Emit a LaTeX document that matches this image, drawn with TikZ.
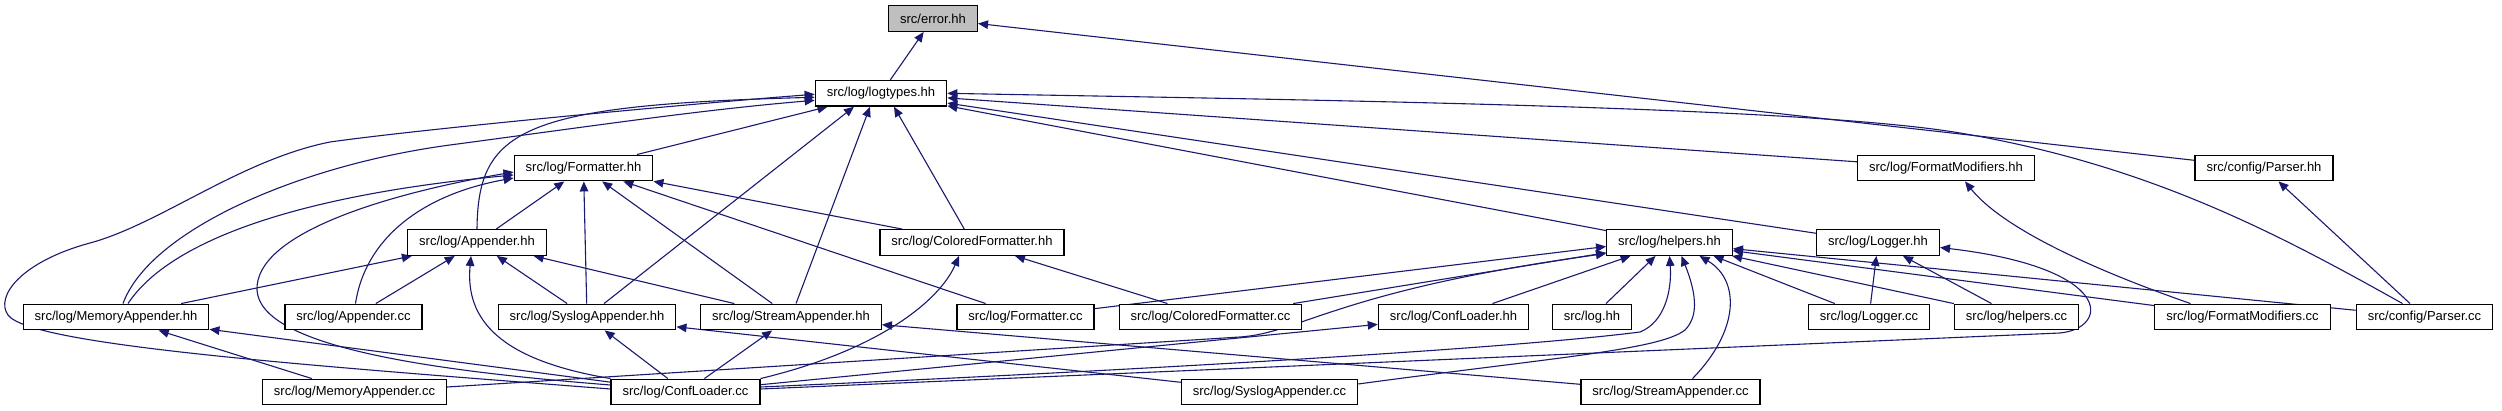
\documentclass[tikz,border=0pt]{standalone}
\usepackage{fontspec}
\setmainfont{Liberation Sans}
\usetikzlibrary{arrows.meta}
\definecolor{depblue}{RGB}{25,25,112}
\pgfdeclarelayer{bg}
\pgfsetlayers{bg,main}
\begin{document}
\begin{tikzpicture}[x=1pt, y=-1pt,
  every node/.style={font=\fontsize{13}{15}\selectfont},
  box/.style={draw=black, line width=1.3pt, fill=white, inner xsep=11.5pt, inner ysep=0pt, minimum height=25.6pt},
  dep/.style={depblue, line width=1.1pt, -{Triangle[length=10pt,width=8.5pt]}}]
\useasboundingbox (0,0) rectangle (2502,411);
% rows of headers and sources
\node[box, fill=black!25] (error) at (933,18.5) {src/error.hh};
\node[box] (logtypes) at (881,93.3) {src/log/logtypes.hh};
\node[box] (formatterhh) at (583.5,168) {src/log/Formatter.hh};
\node[box] (fmodhh) at (1946,168) {src/log/FormatModifiers.hh};
\node[box] (parserhh) at (2264,168) {src/config/Parser.hh};
\node[box] (appenderhh) at (477,242.5) {src/log/Appender.hh};
\node[box] (colfmthh) at (972,242.5) {src/log/ColoredFormatter.hh};
\node[box] (helpershh) at (1669.5,242.5) {src/log/helpers.hh};
\node[box] (loggerhh) at (1878,242.5) {src/log/Logger.hh};
\node[box] (memapphh) at (116,317) {src/log/MemoryAppender.hh};
\node[box] (appendercc) at (353.5,317) {src/log/Appender.cc};
\node[box] (sysapphh) at (587,317) {src/log/SyslogAppender.hh};
\node[box] (strapphh) at (791,317) {src/log/StreamAppender.hh};
\node[box] (formattercc) at (1025.5,317) {src/log/Formatter.cc};
\node[box] (colfmtcc) at (1210.5,317) {src/log/ColoredFormatter.cc};
\node[box] (confloaderhh) at (1453.5,317) {src/log/ConfLoader.hh};
\node[box] (loghh) at (1592,317) {src/log.hh};
\node[box] (loggercc) at (1869,317) {src/log/Logger.cc};
\node[box] (helperscc) at (2016.5,317) {src/log/helpers.cc};
\node[box] (fmodcc) at (2242.5,317) {src/log/FormatModifiers.cc};
\node[box] (parsercc) at (2424.5,317) {src/config/Parser.cc};
\node[box] (memappcc) at (354.5,392) {src/log/MemoryAppender.cc};
\node[box] (confloadercc) at (685.5,392) {src/log/ConfLoader.cc};
\node[box] (sysappcc) at (1269.5,392) {src/log/SyslogAppender.cc};
\node[box] (strappcc) at (1670.5,392) {src/log/StreamAppender.cc};
\begin{pgfonlayer}{bg}
\fill[white] (0,0) rectangle (2502,411);
% includes of error.hh and logtypes.hh
\draw[dep] (logtypes) -- (error);
\draw[dep] (parserhh) -- (error);
\draw[dep] (formatterhh) -- (logtypes);
\draw[dep] (appenderhh.north) .. controls (478,130) and (520,105) .. ([yshift=-4pt]logtypes.west);
\draw[dep] ([xshift=7pt]memapphh.north) .. controls (150,230) and (300,165) .. (450,145) .. controls (600,125) and (700,110) .. ([yshift=-7pt]logtypes.west);
\draw[dep] ([yshift=3pt]confloadercc.west) .. controls (300,365) and (30,345) .. (8,315) .. controls (-5,297) and (20,262) .. (90,243) .. controls (160,224) and (240,160) .. (330,142) .. controls (430,128) and (700,103) .. ([yshift=-1pt]logtypes.west);
\draw[dep] (sysapphh) -- ([xshift=-27pt]logtypes.south);
\draw[dep] (strapphh) -- ([xshift=-11pt]logtypes.south);
\draw[dep] (colfmthh) -- ([xshift=13pt]logtypes.south);
\draw[dep] (helpershh) -- (logtypes);
\draw[dep] (loggerhh) -- (logtypes);
\draw[dep] (fmodhh) -- (logtypes);
\draw[dep] ([xshift=-22pt]parsercc.north) .. controls (2280,235) and (2150,165) .. (1960,133) .. controls (1800,106) and (1300,100) .. (logtypes.east);
% Formatter.hh
\draw[dep] (appenderhh) -- (formatterhh);
\draw[dep] ([xshift=12pt]memapphh.north) .. controls (170,240) and (300,195) .. ([yshift=-7pt]formatterhh.west);
\draw[dep] ([xshift=2pt]appendercc.north) .. controls (365,240) and (420,195) .. ([yshift=-10pt]formatterhh.west);
\draw[dep] ([yshift=7pt]confloadercc.west) .. controls (420,370) and (260,345) .. (257,290) .. controls (255,235) and (380,195) .. ([yshift=-4pt]formatterhh.west);
\draw[dep] (sysapphh) -- (formatterhh);
\draw[dep] (strapphh) -- (formatterhh);
\draw[dep] (formattercc) -- (formatterhh);
\draw[dep] (colfmthh) -- (formatterhh);
% Appender.hh
\draw[dep] (memapphh) -- (appenderhh);
\draw[dep] (appendercc) -- (appenderhh);
\draw[dep] (confloadercc.north west) .. controls (500,360) and (465,320) .. ([xshift=-6pt]appenderhh.south);
\draw[dep] (sysapphh) -- (appenderhh);
\draw[dep] (strapphh) -- (appenderhh);
% appenders and formatters
\draw[dep] (memappcc) -- (memapphh);
\draw[dep] (confloadercc) -- (memapphh);
\draw[dep] (confloadercc) -- (sysapphh);
\draw[dep] (sysappcc) -- (sysapphh);
\draw[dep] (confloadercc) -- (strapphh);
\draw[dep] (strappcc) -- (strapphh);
\draw[dep] (colfmtcc) -- (colfmthh);
\draw[dep] (confloadercc.north east) .. controls (880,350) and (940,300) .. ([xshift=-13pt]colfmthh.south);
\draw[dep] (confloadercc) -- (confloaderhh);
% helpers.hh
\draw[dep] (formattercc) -- ([yshift=-4pt]helpershh.west);
\draw[dep] (colfmtcc) -- (helpershh);
\draw[dep] ([yshift=5pt]memappcc.east) -- (1240,337) .. controls (1300,333) and (1340,290) .. ([yshift=-11pt]helpershh.west);
\draw[dep] (confloaderhh) -- (helpershh);
\draw[dep] (loghh) -- (helpershh);
\draw[dep] ([yshift=5pt]confloadercc.east) .. controls (1100,372) and (1500,350) .. (1640,332) .. controls (1665,322) and (1672,290) .. (helpershh.south);
\draw[dep] ([yshift=8pt]sysappcc.east) .. controls (1550,358) and (1660,350) .. (1685,330) .. controls (1700,315) and (1695,290) .. ([xshift=12pt]helpershh.south);
\draw[dep] ([xshift=22pt]strappcc.north) .. controls (1740,330) and (1740,280) .. ([xshift=30pt]helpershh.south);
\draw[dep] (loggercc) -- ([xshift=44pt]helpershh.south);
\draw[dep] (helperscc) -- (helpershh);
\draw[dep] (fmodcc) -- (helpershh);
\draw[dep] (parsercc) -- (helpershh);
% Logger.hh, FormatModifiers.hh, Parser.hh
\draw[dep] (loggercc) -- (loggerhh);
\draw[dep] (helperscc) -- (loggerhh);
\draw[dep] ([yshift=3pt]confloadercc.east) -- (2060,333) .. controls (2110,328) and (2115,268) .. ([yshift=-5pt]loggerhh.east);
\draw[dep] ([xshift=-52pt]fmodcc.north) .. controls (2080,265) and (2000,225) .. ([xshift=19pt]fmodhh.south);
\draw[dep] (parsercc) -- (parserhh);
\end{pgfonlayer}
\end{tikzpicture}
\end{document}
